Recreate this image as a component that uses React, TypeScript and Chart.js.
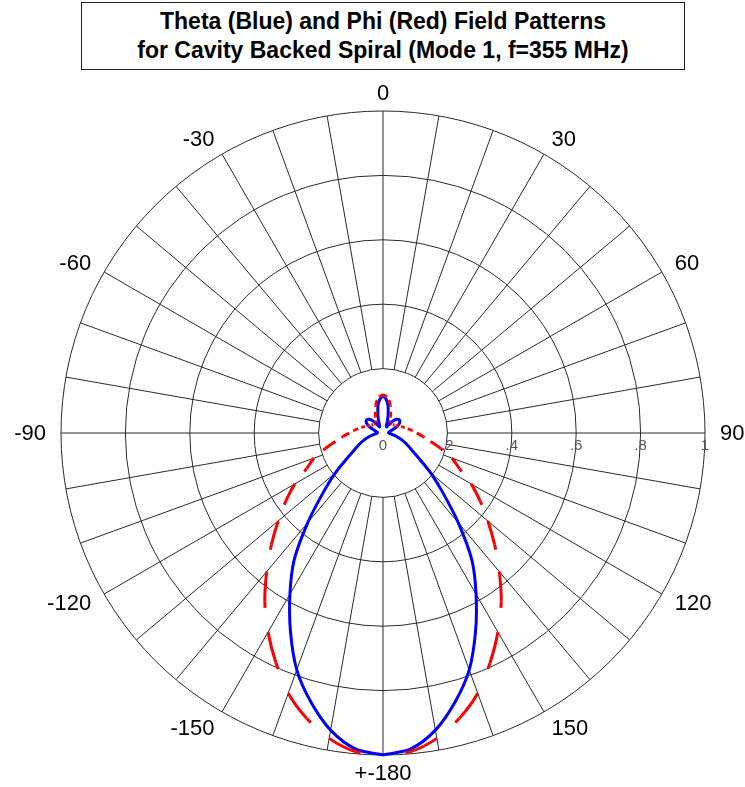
import { useEffect, useRef } from 'react';
import { Chart, registerables } from 'chart.js';

Chart.register(...registerables);

const TITLE_LINES = [
  'Theta (Blue) and Phi (Red) Field Patterns',
  'for Cavity Backed Spiral (Mode 1, f=355 MHz)',
];

// Pattern angle in degrees, clockwise from the top (0) to the bottom (+-180)
const ANGLES = [
  -180, -175, -170, -165, -160, -155, -150, -145, -140, -135, -130, -125, -120,
  -115, -110, -105, -100, -95, -90, -85, -80, -75, -70, -65, -60, -55, -50, -45,
  -40, -35, -30, -25, -20, -15, -10, -5, 0, 5, 10, 15, 20, 25, 30, 35, 40, 45, 50,
  55, 60, 65, 70, 75, 80, 85, 90, 95, 100, 105, 110, 115, 120, 125, 130, 135, 140,
  145, 150, 155, 160, 165, 170, 175, 180,
];

// Theta field (blue, solid), normalised magnitude
const THETA_BLUE = [
  1.0, 0.985, 0.937, 0.865, 0.783, 0.68, 0.578, 0.481, 0.364, 0.264, 0.194, 0.135, 0.1,
  0.08, 0.062, 0.045, 0.03, 0.022, 0.018, 0.017, 0.019, 0.024, 0.034, 0.047, 0.058, 0.064,
  0.065, 0.06, 0.05, 0.035, 0.022, 0.025, 0.04, 0.062, 0.088, 0.106, 0.113, 0.106, 0.088,
  0.062, 0.04, 0.025, 0.022, 0.035, 0.05, 0.06, 0.065, 0.064, 0.058, 0.047, 0.034, 0.024,
  0.019, 0.017, 0.018, 0.022, 0.03, 0.045, 0.062, 0.08, 0.1, 0.135, 0.194, 0.264, 0.364,
  0.481, 0.578, 0.68, 0.783, 0.865, 0.937, 0.985, 1.0,
];

// Phi field (red, dashed), normalised magnitude
const PHI_RED = [
  1.0, 0.993, 0.963, 0.917, 0.86, 0.787, 0.714, 0.64, 0.562, 0.49, 0.425, 0.368, 0.316,
  0.262, 0.228, 0.185, 0.15, 0.125, 0.105, 0.09, 0.078, 0.068, 0.06, 0.053, 0.047, 0.043,
  0.04, 0.038, 0.038, 0.04, 0.045, 0.055, 0.07, 0.088, 0.104, 0.114, 0.118, 0.114, 0.104,
  0.088, 0.07, 0.055, 0.045, 0.04, 0.038, 0.038, 0.04, 0.043, 0.047, 0.053, 0.06, 0.068,
  0.078, 0.09, 0.105, 0.125, 0.15, 0.185, 0.228, 0.262, 0.316, 0.368, 0.425, 0.49, 0.562,
  0.64, 0.714, 0.787, 0.86, 0.917, 0.963, 0.993, 1.0,
];

const RING_VALUES = [0.2, 0.4, 0.6, 0.8, 1];
const RING_LABELS = ['.2', '.4', '.6', '.8', '1'];
const CENTER_LABEL = '0';
const SPOKE_ANGLES = [
  0, 10, 20, 30, 40, 50, 60, 70, 80, 90, 100, 110, 120, 130, 140, 150, 160, 170, 180,
  190, 200, 210, 220, 230, 240, 250, 260, 270, 280, 290, 300, 310, 320, 330, 340, 350,
];
const ANGLE_TICKS = [0, 30, 60, 90, 120, 150, 180, 210, 240, 270, 300, 330];
const ANGLE_TICK_LABELS = ['0', '30', '60', '90', '120', '150', '+-180', '-150', '-120', '-90', '-60', '-30'];

const toXY = (angles: number[], r: number[]) =>
  angles.map((a, i) => {
    const t = (a * Math.PI) / 180;
    return { x: r[i] * Math.sin(t), y: r[i] * Math.cos(t) };
  });

const FONT = '"Liberation Sans", Arial, sans-serif';

const polarGrid = {
  id: 'polarGrid',
  beforeDatasetsDraw(chart: any) {
    const xs = chart.scales.x;
    const ys = chart.scales.y;
    const ctx = chart.ctx;
    const cx = xs.getPixelForValue(0);
    const cy = ys.getPixelForValue(0);
    const R = xs.getPixelForValue(1) - cx;
    const inner = R * RING_VALUES[0];
    ctx.save();
    ctx.strokeStyle = '#2a2a2a';
    ctx.lineWidth = 1;
    RING_VALUES.forEach((v) => {
      ctx.beginPath();
      ctx.arc(cx, cy, R * v, 0, Math.PI * 2);
      ctx.stroke();
    });
    SPOKE_ANGLES.forEach((a) => {
      const t = (a * Math.PI) / 180;
      const sx = Math.sin(t);
      const sy = -Math.cos(t);
      ctx.beginPath();
      ctx.moveTo(cx + sx * inner, cy + sy * inner);
      ctx.lineTo(cx + sx * R, cy + sy * R);
      ctx.stroke();
    });
    // radial tick labels along the 90 deg axis
    ctx.fillStyle = '#555555';
    ctx.font = `15px ${FONT}`;
    ctx.textAlign = 'center';
    ctx.textBaseline = 'middle';
    ctx.fillText(CENTER_LABEL, cx, cy + 13);
    RING_VALUES.forEach((v, i) => {
      ctx.fillText(RING_LABELS[i], cx + R * v, cy + 13);
    });
    // angle labels
    ctx.fillStyle = '#000000';
    ctx.font = `22px ${FONT}`;
    ANGLE_TICKS.forEach((a, i) => {
      const t = (a * Math.PI) / 180;
      const s = Math.sin(t);
      const c = Math.cos(t);
      const dx = R + 15;
      const dy = R + 18;
      ctx.textAlign = Math.abs(s) < 1e-6 ? 'center' : s > 0 ? 'left' : 'right';
      ctx.fillText(ANGLE_TICK_LABELS[i], cx + s * dx, cy - c * dy + 1);
    });
    ctx.restore();
  },
};

export default function App() {
  const canvasRef = useRef<HTMLCanvasElement | null>(null);

  useEffect(() => {
    if (!canvasRef.current) return;
    const half = (ANGLES.length - 1) / 2;
    const redDash = (c: any) => {
      const L = Math.hypot(c.p1.x - c.p0.x, c.p1.y - c.p0.y);
      const j = c.p0DataIndex;
      if (j < half) return j % 2 === 0 ? [0, 0.8 * L, 0.2 * L, 0.05 * L] : [];
      return j % 2 === 0 ? [] : [0.2 * L, 0.85 * L];
    };
    const chart = new Chart(canvasRef.current, {
      type: 'scatter',
      data: {
        datasets: [
          {
            label: 'Phi',
            data: toXY(ANGLES, PHI_RED),
            showLine: true,
            borderColor: '#ff0000',
            backgroundColor: '#ff0000',
            borderWidth: 3,
            pointRadius: 0,
            tension: 0.3,
            fill: false,
            clip: false,
            segment: { borderDash: redDash },
          } as any,
          {
            label: 'Theta',
            data: toXY(ANGLES, THETA_BLUE),
            showLine: true,
            borderColor: '#0000ff',
            backgroundColor: '#0000ff',
            borderWidth: 3,
            pointRadius: 0,
            tension: 0.3,
            fill: false,
            clip: false,
          } as any,
        ],
      },
      options: {
        animation: false,
        responsive: false,
        maintainAspectRatio: false,
        events: [],
        layout: { padding: { left: 61, right: 40, top: 111, bottom: 32 } },
        scales: {
          x: { type: 'linear', min: -1, max: 1, display: false },
          y: { type: 'linear', min: -1, max: 1, display: false },
        },
        plugins: {
          legend: { display: false },
          tooltip: { enabled: false },
          title: { display: false },
        },
      },
      plugins: [polarGrid],
    });
    return () => chart.destroy();
  }, []);

  return (
    <div style={{ position: 'absolute', left: 0, top: 0, width: 745, height: 787, background: '#fff' }}>
      <canvas ref={canvasRef} width={745} height={787} style={{ position: 'absolute', left: 0, top: 0 }} />
      <div
        style={{
          position: 'absolute',
          left: 81,
          top: 2,
          width: 604,
          height: 68,
          boxSizing: 'border-box',
          border: '1px solid #222',
          background: '#fff',
          display: 'flex',
          flexDirection: 'column',
          alignItems: 'center',
          justifyContent: 'center',
          fontFamily: FONT,
          fontWeight: 'bold',
          fontSize: 23,
          lineHeight: '29px',
          color: '#000',
        }}
      >
        {TITLE_LINES.map((t) => (
          <div key={t}>{t}</div>
        ))}
      </div>
    </div>
  );
}
